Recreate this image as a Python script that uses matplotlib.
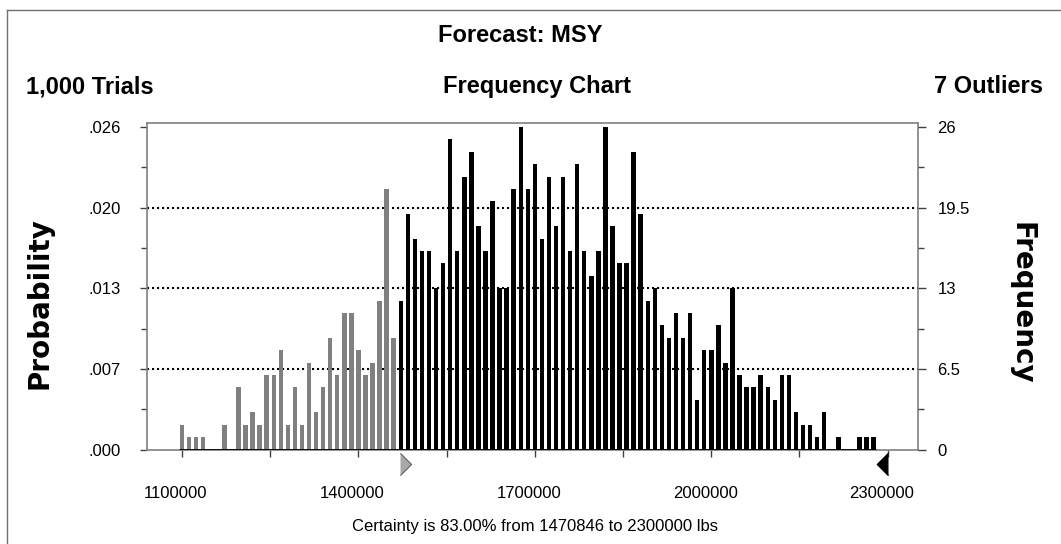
'''Crystal Ball style frequency chart for the MSY forecast'''

import numpy as np
import matplotlib
matplotlib.use("Agg")
import matplotlib.pyplot as plt
from matplotlib.lines import Line2D
import matplotlib.transforms as mtransforms

# counts per bin (bins of 12000 lbs starting at 1100000)
counts = [2, 1, 1, 1, 0, 0, 2, 0, 5, 2, 3, 2, 6, 6, 8, 2, 5, 2, 7, 3, 5, 9, 6, 11, 11, 8, 6, 7, 12, 21, 9,
          12, 19, 17, 16, 16, 13, 15, 25, 16, 22, 24, 18, 16, 20, 13, 13, 21, 26, 21, 23, 17, 22, 18, 22,
          16, 23, 16, 14, 16, 26, 18, 15, 15, 24, 19,
          12, 13, 10, 9, 11, 9, 11, 4, 8, 8, 10, 7, 13, 6, 5, 5, 6, 5, 4, 6, 6, 3, 2, 2, 1, 3, 0, 1, 0, 0, 1, 1, 1]
bin_start = 1100000
bin_width = 12000
trials = 1000
outliers = 7
certainty = 83.00
lower_bound = 1470846
upper_bound = 2300000
x_tick_values = [1100000, 1400000, 1700000, 2000000, 2300000]
freq_ticks = [0, 6.5, 13, 19.5, 26]

W, H = 1061, 544
fig = plt.figure(figsize=(W / 100, H / 100), dpi=100)

# axes box in pixels: left 147, right 918, top 123, bottom 449.5
ax = fig.add_axes([147 / W, (H - 449.5) / H, (918 - 147) / W, (449.5 - 123) / H])

centers = bin_start + bin_width * np.arange(len(counts))
colors = np.where(centers >= lower_bound, "#000000", "#808080")
ax.bar(centers, counts, width=bin_width * 0.63, color=colors, zorder=3)

# black baseline under the bars
ax.hlines(0, centers[0] - bin_width * 0.4, centers[-1] + bin_width * 0.4, color="black", lw=2, zorder=4)

ax.set_xlim(1040500, 2351500)
ax.set_ylim(0, 26.32)

# dotted grid lines
for v in freq_ticks[1:-1]:
    ax.axhline(v, color="black", lw=1.5, linestyle=(0, (1, 1.4)), zorder=2)

for side in ["left", "top", "right", "bottom"]:
    ax.spines[side].set_color("#808080")
    ax.spines[side].set_linewidth(1.2)

ax.set_xticks(np.arange(1100000, 2300001, 300000))
ax.set_xticks(np.arange(1250000, 2300001, 300000), minor=True)
ax.set_xticklabels([str(v) for v in x_tick_values], fontsize=12, family="Liberation Sans")
ax.tick_params(axis="x", which="both", length=5, width=1, color="#404040", pad=21)
# labels sit a little left of their ticks in the original
shift = mtransforms.ScaledTranslation(-6 / 100, 0, fig.dpi_scale_trans)
for lab in ax.get_xticklabels():
    lab.set_transform(lab.get_transform() + shift)

ax.set_yticks(freq_ticks)
ax.set_yticks([3.25, 9.75, 16.25, 22.75], minor=True)
ax.set_yticklabels([("%.3f" % (v / trials + 1e-9))[1:] for v in freq_ticks], fontsize=12, family="Liberation Sans")
ax.tick_params(axis="y", which="major", length=5, width=1, color="#404040", pad=14)
ax.tick_params(axis="y", which="minor", length=4, width=1, color="#404040")

ax2 = ax.twinx()
ax2.set_ylim(ax.get_ylim())
ax2.set_yticks(freq_ticks)
ax2.set_yticks([3.25, 9.75, 16.25, 22.75], minor=True)
ax2.set_yticklabels(["%g" % v for v in freq_ticks], fontsize=12, family="Liberation Sans")
ax2.tick_params(axis="y", which="major", length=6, width=1, color="#404040", pad=8)
ax2.tick_params(axis="y", which="minor", length=4, width=1, color="#404040")
for side in ["left", "top", "right", "bottom"]:
    ax2.spines[side].set_visible(False)

# certainty range markers under the axis
trans = mtransforms.blended_transform_factory(ax.transData, ax.transAxes)
ax.plot([lower_bound], [-0.043], marker=[(0, -1), (1, 0), (0, 1)], markersize=16,
        color="#a8a8a8", markeredgecolor="#606060", markeredgewidth=0.8,
        transform=trans, clip_on=False, zorder=5)
ax.plot([upper_bound], [-0.043], marker=[(0, -1), (-1, 0), (0, 1)], markersize=16,
        color="black", transform=trans, clip_on=False, zorder=5)

# side labels
fig.text(40 / W, 1 - 303 / H, "Probability", rotation=90, fontsize=20, fontweight="bold",
         ha="center", va="center", family="DejaVu Sans")
fig.text(1022 / W, 1 - 303 / H, "Frequency", rotation=-90, fontsize=20, fontweight="bold",
         ha="center", va="center", family="DejaVu Sans")

# header texts
head = dict(fontsize=17, fontweight="bold", family="Liberation Sans", va="baseline")
fig.text(520 / W, 1 - 41.7 / H, "Forecast: MSY", ha="center", **head)
fig.text(26 / W, 1 - 93.3 / H, "{:,} Trials".format(trials), ha="left", **head)
fig.text(443 / W, 1 - 93.3 / H, "Frequency Chart", ha="left", **head)
fig.text(1043 / W, 1 - 93.3 / H, "{} Outliers".format(outliers), ha="right", **head)

fig.text(535 / W, 1 - 530.7 / H,
         "Certainty is {:.2f}% from {} to {} lbs".format(certainty, lower_bound, upper_bound),
         ha="center", va="baseline", fontsize=12, family="Liberation Sans")

# outer frame (left and top edges visible)
fig.add_artist(Line2D([6.7 / W, 6.7 / W], [0, 1 - 9.5 / H], color="#707070", lw=1, transform=fig.transFigure))
fig.add_artist(Line2D([6.7 / W, 1], [1 - 9.5 / H, 1 - 9.5 / H], color="#707070", lw=1, transform=fig.transFigure))

fig.savefig("out.png", dpi=100)
